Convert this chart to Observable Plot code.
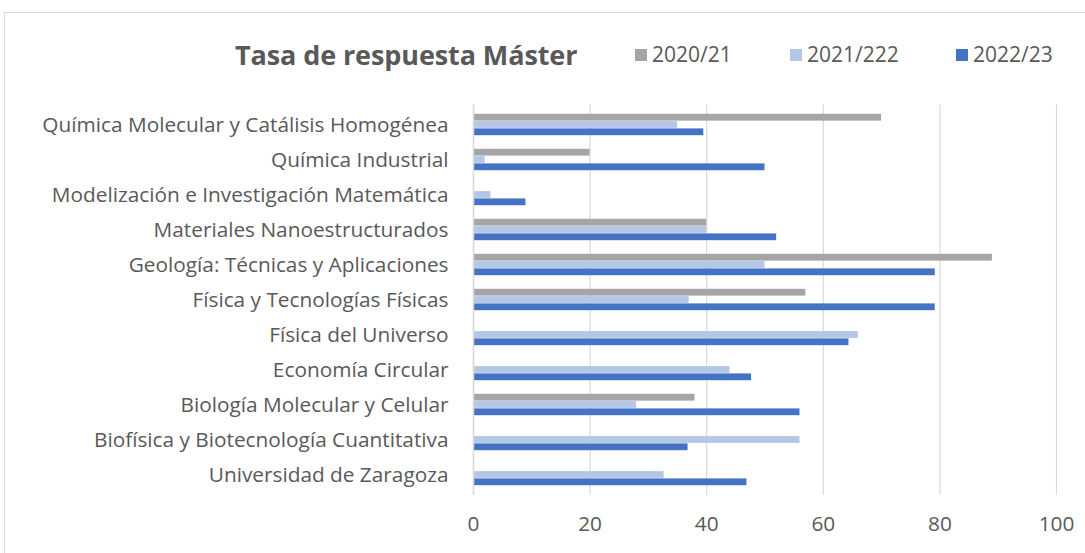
<!DOCTYPE html>
<html>
<head>
<meta charset="utf-8">
<script src="https://cdn.jsdelivr.net/npm/d3@7"></script>
<script src="https://cdn.jsdelivr.net/npm/@observablehq/plot@0.6"></script>
<style>
  html, body { margin: 0; padding: 0; background: #fff; }
  #wrap { position: relative; width: 1085px; height: 553px; overflow: hidden; font-family: "Open Sans", sans-serif; color: #595959; }
  #frame { position: absolute; left: 4px; top: 12px; width: 1200px; height: 700px; border: 1px solid #d9d9d9; box-sizing: border-box; }
  #chart { position: absolute; left: 0; top: 0; }
  #title { position: absolute; left: 235px; top: 36px; font-size: 27px; line-height: 37px; font-weight: bold; white-space: nowrap; letter-spacing: -0.1px; }
  .leg { position: absolute; top: 40px; font-size: 21px; line-height: 29px; white-space: nowrap; display: flex; align-items: center; }
  .sw { display: inline-block; width: 12px; height: 12px; margin-right: 5px; }
</style>
</head>
<body>
<div id="wrap">
  <div id="frame"></div>
  <div id="chart"></div>
  <div id="title">Tasa de respuesta Máster</div>
  <div id="legend"></div>
</div>
<script>
const categories = [
  "Química Molecular y Catálisis Homogénea",
  "Química Industrial",
  "Modelización e Investigación Matemática",
  "Materiales Nanoestructurados",
  "Geología: Técnicas y Aplicaciones",
  "Física y Tecnologías Físicas",
  "Física del Universo",
  "Economía Circular",
  "Biología Molecular y Celular",
  "Biofísica y Biotecnología Cuantitativa",
  "Universidad de Zaragoza"
];
const series = ["2020/21", "2021/222", "2022/23"];
const colors = ["#a5a5a5", "#b4c7e7", "#4472c4"];
const v2020 = [70, 20, null, 40, 89, 57, null, null, 38, null, null];
const v2021 = [35, 2, 3, 40, 50, 37, 66, 44, 28, 56, 32.7];
const v2022 = [39.5, 50, 9, 52, 79.2, 79.2, 64.4, 47.7, 56, 36.8, 46.9];
const xTicks = [0, 20, 40, 60, 80, 100];

const values = [v2020, v2021, v2022];
const rows = series.map((s, i) =>
  categories.map((c, j) => ({category: c, series: s, value: values[i][j]})).filter(d => d.value != null)
);

const band = 35.5, barH = 7.3, groupTop = (band - 3 * barH) / 2;
const marks = [
  Plot.gridX(xTicks, {stroke: "#d9d9d9", strokeOpacity: 1, strokeWidth: 1.2})
];
rows.forEach((data, i) => {
  marks.push(Plot.barX(data, {
    x: "value", y: "category", fill: colors[i],
    insetTop: groupTop + i * barH,
    insetBottom: band - groupTop - (i + 1) * barH
  }));
});
marks.push(Plot.ruleX([0], {stroke: "#d9d9d9", strokeWidth: 1.5}));

const chart = Plot.plot({
  width: 1085,
  height: 553,
  marginLeft: 473,
  marginRight: 29,
  marginTop: 104.5,
  marginBottom: 58,
  style: {fontSize: "20.8px", fontFamily: "'Open Sans', sans-serif", color: "#595959", background: "transparent"},
  x: {domain: [0, 100], ticks: xTicks, label: null, tickSize: 0, tickPadding: 21},
  y: {domain: categories, padding: 0, label: null, tickSize: 0, tickPadding: 25},
  marks
});
document.getElementById("chart").appendChild(chart);

const legendPos = [635, 790, 956];
const legend = document.getElementById("legend");
series.forEach((s, i) => {
  const el = document.createElement("div");
  el.className = "leg";
  el.style.left = legendPos[i] + "px";
  el.innerHTML = `<span class="sw" style="background:${colors[i]}"></span>${s}`;
  legend.appendChild(el);
});
</script>
</body>
</html>
